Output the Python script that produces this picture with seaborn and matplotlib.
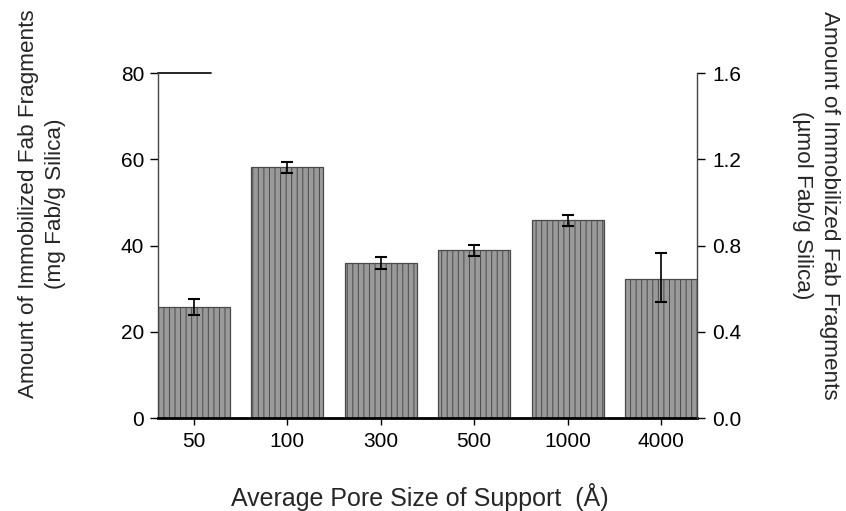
import matplotlib
matplotlib.use("Agg")
import matplotlib.pyplot as plt
import seaborn as sns
import pandas as pd
import numpy as np

# data
pore_sizes = ["50", "100", "300", "500", "1000", "4000"]
amount_mg = [25.8, 58.1, 35.9, 39.0, 45.8, 32.3]
err_low = [1.9, 1.2, 1.4, 1.5, 1.3, 5.3]
err_high = [1.9, 1.2, 1.4, 1.2, 1.3, 5.9]
left_ticks = [0, 20, 40, 60, 80]
right_ticks = [0.0, 0.4, 0.8, 1.2, 1.6]

sns.set_theme(style="ticks")
plt.rcParams["font.family"] = ["Liberation Sans", "DejaVu Sans"]
plt.rcParams["hatch.linewidth"] = 0.7

df = pd.DataFrame({"pore": pore_sizes, "amount": amount_mg})

fig = plt.figure(figsize=(8.46, 5.11), dpi=100)
ax = fig.add_axes([158 / 846, 1 - 418 / 511, (697 - 158) / 846, (418 - 73) / 511])

sns.barplot(data=df, x="pore", y="amount", order=pore_sizes, ax=ax,
            color="#9a9a9a", width=0.77, errorbar=None, saturation=1,
            edgecolor="#4a4a4a", linewidth=0.9, hatch="|||")

xpos = np.arange(len(pore_sizes))
ax.errorbar(xpos, amount_mg, yerr=[err_low, err_high], fmt="none",
            ecolor="black", elinewidth=1.2, capsize=4.3, capthick=1.5, zorder=5)

ax.set_xlim(-0.385, len(pore_sizes) - 1 + 0.385)
ax.set_ylim(0, 80)
ax.set_yticks(left_ticks)
ax.set_yticklabels([str(t) for t in left_ticks])
ax.set_xlabel("")
ax.set_ylabel("")

ax.tick_params(axis="y", direction="out", length=6, width=1, labelsize=15, pad=4, colors="black")
ax.tick_params(axis="x", direction="out", length=5, width=1, labelsize=15, pad=5, colors="black")

ax.spines["top"].set_visible(False)
ax.spines["left"].set_color("#444444")
ax.spines["left"].set_linewidth(1.0)
ax.spines["right"].set_visible(False)
ax.spines["bottom"].set_color("black")
ax.spines["bottom"].set_linewidth(2.0)

# partial top border as in the reference
ax.axhline(80, xmin=0, xmax=0.098, color="black", linewidth=1.2, clip_on=False)

ax2 = ax.twinx()
ax2.set_ylim(0, 1.6)
ax2.set_yticks(right_ticks)
ax2.set_yticklabels([f"{t:.1f}" for t in right_ticks])
ax2.tick_params(axis="y", direction="out", length=6, width=1, labelsize=15, pad=5, colors="black")
for side in ["top", "left", "bottom"]:
    ax2.spines[side].set_visible(False)
ax2.spines["right"].set_color("#444444")
ax2.spines["right"].set_linewidth(1.0)

fig.text(42 / 846, 1 - 204 / 511,
         "Amount of Immobilized Fab Fragments\n(mg Fab/g Silica)",
         rotation=90, ha="center", va="center", fontsize=16.2, linespacing=1.35)
fig.text(816 / 846, 1 - 205 / 511,
         "Amount of Immobilized Fab Fragments\n(µmol Fab/g Silica)",
         rotation=270, ha="center", va="center", fontsize=16.2, linespacing=1.35)
fig.text(420 / 846, 1 - 497 / 511, "Average Pore Size of Support  (Å)",
         ha="center", va="center", fontsize=18)

fig.savefig("out.png", dpi=100)
